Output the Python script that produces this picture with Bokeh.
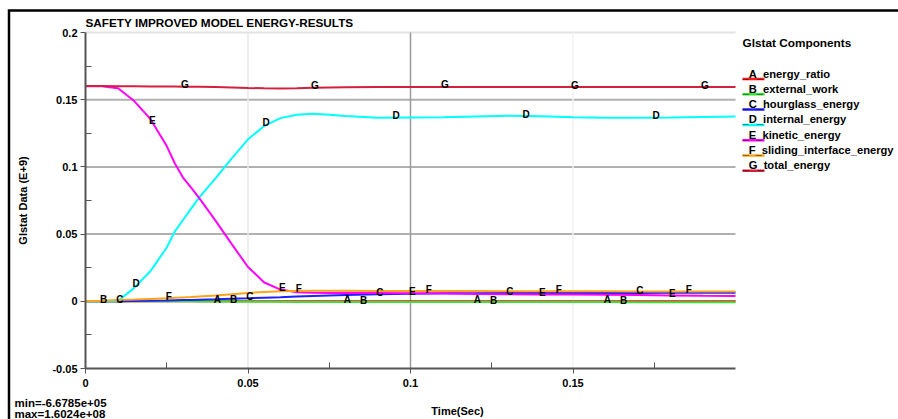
import math
import numpy as np
from bokeh.plotting import figure
from bokeh.models import Range1d, FixedTicker, Label, ColumnDataSource
from bokeh.core.properties import value
from bokeh.embed import file_html
from bokeh.resources import INLINE

# ---------------- data (Glstat components, E+9) ----------------
time_s = [0, 0.005, 0.01, 0.015, 0.02, 0.025, 0.0275, 0.03, 0.0325, 0.035, 0.04, 0.045,
          0.05, 0.055, 0.06, 0.065, 0.07, 0.075, 0.08, 0.09, 0.1, 0.11, 0.12, 0.13, 0.14,
          0.15, 0.16, 0.17, 0.18, 0.19, 0.2]
energy_ratio = [0.0, 0.0, 0.0, 0.0, 0.0, 0.0, 0.0, 0.0, 0.0, 0.0, 0.0, 0.0, 0.0, 0.0, 0.0,
                0.0, 0.0, 0.0, 0.0, 0.0, 0.0, 0.0, 0.0, 0.0, 0.0, 0.0, 0.0, 0.0, 0.0, 0.0,
                0.0]
external_work = [0.0, 0.0, 0.0, 0.0, 0.0, 0.0, 0.0, 0.0, 0.0, -0.0001, -0.0001, -0.0002,
                 -0.0003, -0.0004, -0.0004, -0.0005, -0.0005, -0.0005, -0.0006, -0.0006,
                 -0.0006, -0.0006, -0.0006, -0.0006, -0.0006, -0.0006, -0.0006, -0.00065,
                 -0.00067, -0.00067, -0.00067]
hourglass_energy = [0.0, 0.0, 0.0, 0.0002, 0.0004, 0.0006, 0.00075, 0.0009, 0.00105,
                    0.0012, 0.0015, 0.0019, 0.0022, 0.0027, 0.0031, 0.0036, 0.0040, 0.0044,
                    0.0047, 0.0053, 0.0057, 0.0059, 0.0060, 0.0061, 0.0061, 0.0062, 0.0062,
                    0.0062, 0.0063, 0.0063, 0.0063]
internal_energy = [0.0, 0.0, 0.0002, 0.0100, 0.0225, 0.0400, 0.0520, 0.0605, 0.0690,
                   0.0773, 0.0914, 0.1063, 0.1205, 0.1305, 0.1363, 0.1388, 0.1395, 0.1388,
                   0.1378, 0.1366, 0.1368, 0.1370, 0.1375, 0.1380, 0.1376, 0.1370, 0.1366,
                   0.1365, 0.1368, 0.1372, 0.1375]
kinetic_energy = [0.1600, 0.1600, 0.1585, 0.1490, 0.1355, 0.1155, 0.1025, 0.0921, 0.0845,
                  0.0768, 0.0600, 0.0425, 0.0255, 0.0140, 0.0087, 0.0068, 0.0063, 0.0062,
                  0.0062, 0.0061, 0.0060, 0.0058, 0.0055, 0.0053, 0.0051, 0.0050, 0.0049,
                  0.0047, 0.0044, 0.0041, 0.0040]
sliding_interface_energy = [0.0, 0.0004, 0.0009, 0.0013, 0.0018, 0.0023, 0.0026, 0.0029,
                            0.0032, 0.0036, 0.0044, 0.0053, 0.0062, 0.0069, 0.0074, 0.0077,
                            0.0078, 0.0078, 0.0078, 0.0077, 0.0077, 0.0076, 0.0076, 0.0075,
                            0.0075, 0.0074, 0.0074, 0.0073, 0.0073, 0.0072, 0.0072]
total_energy = [0.1602, 0.1602, 0.1601, 0.1600, 0.1599, 0.1598, 0.15975, 0.1597, 0.15965,
                0.1596, 0.1594, 0.1591, 0.1587, 0.1585, 0.1584, 0.1585, 0.1588, 0.1591,
                0.1593, 0.1595, 0.1595, 0.1595, 0.1595, 0.1595, 0.1594, 0.1594, 0.1594,
                0.1594, 0.1594, 0.1594, 0.1594]

letters = ["A", "B", "C", "D", "E", "F", "G"]
names = ["energy_ratio", "external_work", "hourglass_energy", "internal_energy",
         "kinetic_energy", "sliding_interface_energy", "total_energy"]
series = [energy_ratio, external_work, hourglass_energy, internal_energy,
          kinetic_energy, sliding_interface_energy, total_energy]
colors = ["#ff1a1a", "#33e633", "#1f1fff", "#00ffff", "#ff00ff", "#ffa31a", "#d4203c"]

x_ticks = [0, 0.05, 0.1, 0.15]
x_tick_labels = ["0", "0.05", "0.1", "0.15"]
x_minor = [0.025, 0.075, 0.125, 0.175]
y_ticks = [-0.05, 0, 0.05, 0.1, 0.15, 0.2]
y_tick_labels = ["-0.05", "0", "0.05", "0.1", "0.15", "0.2"]
y_minor = [-0.025, 0.025, 0.075, 0.125, 0.175]

title_text = "SAFETY IMPROVED MODEL ENERGY-RESULTS"
y_label = "Glstat Data (E+9)"
x_label = "Time(Sec)"
legend_title = "Glstat Components"
min_text = "min=-6.6785e+05"
max_text = "max=1.6024e+08"

# ---------------- layout ----------------
W, H = 898, 419
FL, FR, FT, FB = 85, 735, 32, 368          # plotting area in pixels
X0, X1, Y0, Y1 = 0.0, 0.2, -0.05, 0.2      # data limits of the plotting area
FONT = "Liberation Sans"


def dx(px):
    return X0 + (px - FL) / (FR - FL) * (X1 - X0)


def dy(py):
    return Y0 + (FB - py) / (FB - FT) * (Y1 - Y0)


p = figure(width=W, height=H, output_backend="svg", toolbar_location=None, title=None,
           x_range=Range1d(dx(0), dx(W)), y_range=Range1d(dy(H), dy(0)),
           min_border=0, min_border_left=0, min_border_right=0, min_border_top=0,
           min_border_bottom=0)
p.outline_line_color = None
p.background_fill_color = "white"
p.border_fill_color = "white"
p.xgrid.visible = False
p.ygrid.visible = False

xa, ya = p.xaxis[0], p.yaxis[0]
xa.fixed_location = Y0
xa.bounds = (X0, X1)
ya.fixed_location = X0
ya.bounds = (Y0, Y1)
for ax, ticks, labels, minor in ((xa, x_ticks, x_tick_labels, x_minor),
                                 (ya, y_ticks, y_tick_labels, y_minor)):
    ax.ticker = FixedTicker(ticks=ticks, minor_ticks=minor)
    ax.major_label_overrides = {t: l for t, l in zip(ticks, labels)}
    ax.major_label_text_font = FONT
    ax.major_label_text_font_style = "bold"
    ax.major_label_text_font_size = "11px"
    ax.major_label_text_color = "black"
    ax.axis_line_color = "#555555"
    ax.axis_line_width = 2
    ax.major_tick_line_color = "#555555"
    ax.minor_tick_line_color = "#555555"
    ax.major_tick_out = 5
    ax.major_tick_in = 0
    ax.minor_tick_in = 6
    ax.minor_tick_out = 0
xa.major_label_standoff = 5
ya.major_label_standoff = 3

# grid lines (limited to the plotting area)
ygrid_colors = {0: "#b0b0b0", 0.05: "#b0b0b0", 0.1: "#b0b0b0", 0.15: "#b0b0b0",
                0.2: "#e4e4e4"}
gy = [t for t in y_ticks if t in ygrid_colors]
p.segment(x0=[X0] * len(gy), x1=[X1] * len(gy), y0=gy, y1=gy,
          line_color=[ygrid_colors[t] for t in gy], line_width=2)
xgrid_colors = {0.05: "#e8e8e8", 0.1: "#9a9a9a", 0.15: "#f2f2f2"}
gx = [t for t in x_ticks if t in xgrid_colors]
p.segment(x0=gx, x1=gx, y0=[Y0] * len(gx), y1=[Y1] * len(gx),
          line_color=[xgrid_colors[t] for t in gx], line_width=1.5)

# curves
for s, c in zip(series, colors):
    p.line(time_s, s, line_color=c, line_width=2)

# letter markers along curves
lx, ly, lt = [], [], []
t_arr = np.array(time_s)
for i, (let, s) in enumerate(zip(letters, series)):
    t = 0.0006 + 0.005 * i
    while t < X1:
        if t > 0.002:
            lx.append(t)
            ly.append(float(np.interp(t, t_arr, np.array(s))))
            lt.append(let)
        t += 0.04
p.text(x="x", y="y", text="t", source=ColumnDataSource(dict(x=lx, y=ly, t=lt)),
       text_font=value(FONT), text_font_style="bold", text_font_size="10px",
       text_color="black", text_align="center", text_baseline="middle", y_offset=-2)


def label(px, py, text, size="11px", align="left", angle=0.0):
    p.add_layout(Label(x=dx(px), y=dy(py), text=text, text_font=FONT,
                       text_font_style="bold", text_font_size=size,
                       text_color="black", text_align=align,
                       text_baseline="middle", angle=angle))


label(85, 22, title_text, size="11.75px")
label(22, 200, y_label, align="center", angle=math.pi / 2)
label(457, 410, x_label, align="center")
label(14, 402, min_text, size="11.5px")
label(14, 413, max_text, size="11.5px")
label(742, 42, legend_title, size="11.8px")

# legend rows: colored underline beneath the letter
seg_y = []
for i, (let, nm) in enumerate(zip(letters, names)):
    yc = 73 + i * 15.3
    label(742, yc, "_" + let + "_" + nm, size="11.2px")
    seg_y.append(dy(yc + 5.5))
p.segment(x0=[dx(742)] * len(seg_y), x1=[dx(764)] * len(seg_y), y0=seg_y, y1=seg_y,
          line_color=colors, line_width=2.5)

# outer frame border (top and left edges)
p.line([dx(2000), dx(8.5), dx(8.5)], [dy(10), dy(10), dy(2000)], line_color="black",
       line_width=2.5, line_join="miter")

open("out.html", "w").write(file_html(p, INLINE))
